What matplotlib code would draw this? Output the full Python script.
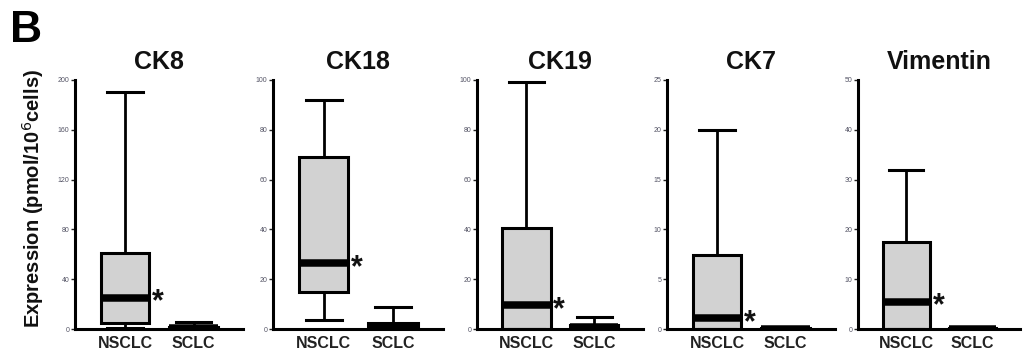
import matplotlib
matplotlib.use("Agg")
import matplotlib.pyplot as plt

plt.rcParams["font.family"] = ["Liberation Sans", "DejaVu Sans"]

# Marker panels and their y-axis ranges
markers = ["CK8", "CK18", "CK19", "CK7", "Vimentin"]
y_max = [200, 100, 100, 25, 50]
y_step = [40, 20, 20, 5, 10]
groups = ["NSCLC", "SCLC"]

# Box statistics per marker (pmol/10^6 cells)
nsclc_whislo = [1.0, 3.5, 0.0, 0.0, 0.0]
nsclc_q1 = [5.0, 15.0, 0.0, 0.0, 0.0]
nsclc_med = [25.0, 26.5, 9.6, 1.1, 5.5]
nsclc_q3 = [61.0, 69.0, 40.5, 7.4, 17.5]
nsclc_whishi = [190.0, 92.0, 99.0, 20.0, 32.0]

sclc_whislo = [0.0, 0.0, 0.0, 0.0, 0.0]
sclc_q1 = [0.0, 0.0, 0.0, 0.0, 0.0]
sclc_med = [0.5, 1.0, 0.8, 0.05, 0.1]
sclc_q3 = [1.6, 2.5, 1.8, 0.12, 0.25]
sclc_whishi = [5.6, 9.0, 4.8, 0.12, 0.25]

fig = plt.figure(figsize=(10.33, 3.49), dpi=100)
W, H = 1033, 349

left_px = [75, 273, 477, 667, 858]
right_px = [243, 443, 643, 835, 1020]
top_px, bottom_px = 80, 329

box_fill = "#d2d2d2"

for i, name in enumerate(markers):
    ax = fig.add_axes([left_px[i] / W, 1 - bottom_px / H,
                       (right_px[i] - left_px[i]) / W, (bottom_px - top_px) / H])
    stats = [
        dict(whislo=nsclc_whislo[i], q1=nsclc_q1[i], med=nsclc_med[i],
             q3=nsclc_q3[i], whishi=nsclc_whishi[i], label=groups[0]),
        dict(whislo=sclc_whislo[i], q1=sclc_q1[i], med=sclc_med[i],
             q3=sclc_q3[i], whishi=sclc_whishi[i], label=groups[1]),
    ]
    ax.bxp(stats, positions=[1, 2], widths=0.71, showfliers=False,
           patch_artist=True,
           boxprops=dict(facecolor=box_fill, edgecolor="black", linewidth=2.2),
           medianprops=dict(color="black", linewidth=5.4, solid_capstyle="butt"),
           whiskerprops=dict(color="black", linewidth=2.0),
           capprops=dict(color="black", linewidth=2.2),
           capwidths=0.52)

    ax.set_xlim(0.27, 2.72)
    ax.set_ylim(0, y_max[i])
    ax.set_yticks(range(0, y_max[i] + 1, y_step[i]))
    ax.tick_params(axis="y", length=3, width=1.0, labelsize=5,
                   labelcolor="#555566", pad=1, color="#222222")
    ax.tick_params(axis="x", length=0, labelsize=11.5, pad=5)
    for lab in ax.get_xticklabels():
        lab.set_fontweight("bold")
        lab.set_color("#222222")
    for s in ("top", "right"):
        ax.spines[s].set_visible(False)
    for s in ("left", "bottom"):
        ax.spines[s].set_linewidth(2.2)
    ax.spines["bottom"].set_zorder(5)
    ax.patch.set_alpha(0)

    # significance mark next to the NSCLC median
    ax.annotate("*", xy=(1 + 0.355, nsclc_med[i]), xytext=(2, -3.5),
                textcoords="offset points", ha="left", va="center",
                fontsize=22, fontweight="bold", color="#111111")

    ax.text(0.5, 1.025, name, transform=ax.transAxes, ha="center", va="bottom",
            fontsize=18, fontweight="bold", color="#111111")

fig.text(10 / W, 1 - 30 / H, "B", fontsize=32, fontweight="bold",
         ha="left", va="center", color="black")
fig.text(33 / W, 1 - 198 / H, "Expression (pmol/10$^{6}$cells)", rotation=90,
         fontsize=14.5, fontweight="bold", ha="center", va="center", color="#111111")

fig.savefig("out.png", dpi=100)
